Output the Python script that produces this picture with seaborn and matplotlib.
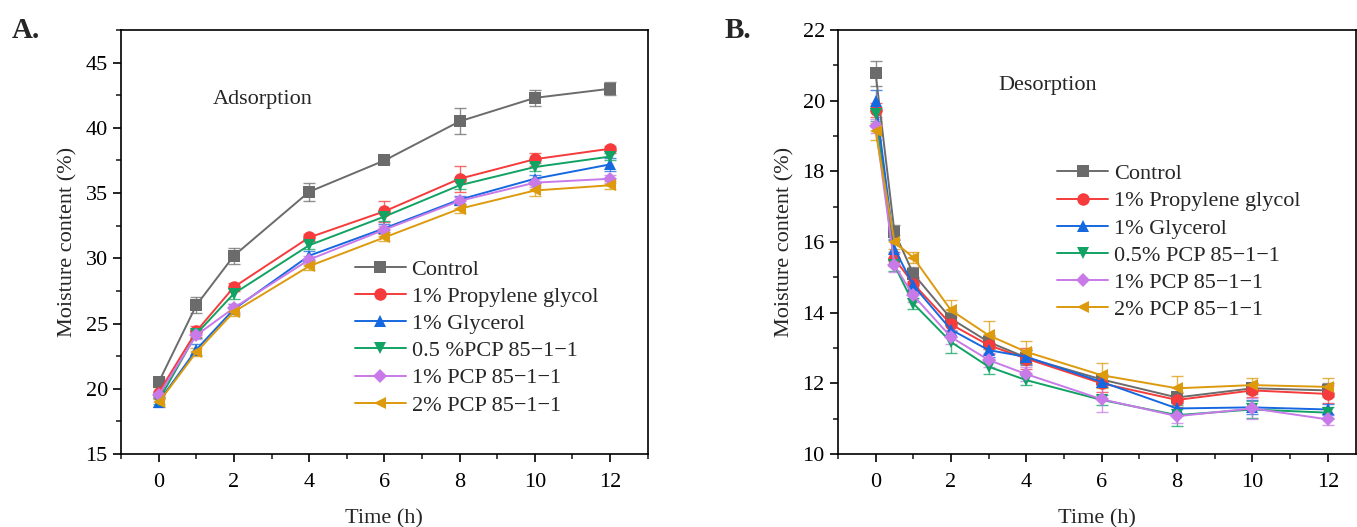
"""
Moisture adsorption / desorption curves, two panels.
"""
import matplotlib
matplotlib.use("Agg")
import matplotlib.pyplot as plt
from matplotlib.ticker import MultipleLocator
import pandas as pd
import seaborn as sns

sns.set_theme(style="ticks")
plt.rcParams["font.family"] = ["Liberation Serif", "DejaVu Serif"]
plt.rcParams["axes.linewidth"] = 1.2

# ---- data -----------------------------------------------------------------
labels_a = ["Control", "1% Propylene glycol", "1% Glycerol",
            "0.5 %PCP 85\u22121\u22121", "1% PCP 85\u22121\u22121", "2% PCP 85\u22121\u22121"]
labels_b = ["Control", "1% Propylene glycol", "1% Glycerol",
            "0.5% PCP 85\u22121\u22121", "1% PCP 85\u22121\u22121", "2% PCP 85\u22121\u22121"]

time_a = [0, 1, 2, 4, 6, 8, 10, 12]
control_a = [20.5, 26.4, 30.2, 35.1, 37.5, 40.5, 42.3, 43.0]
pg_a = [19.7, 24.4, 27.8, 31.6, 33.6, 36.1, 37.6, 38.4]
gly_a = [19.0, 23.0, 26.1, 30.2, 32.3, 34.5, 36.1, 37.2]
pcp05_a = [19.1, 24.2, 27.3, 31.0, 33.2, 35.6, 37.0, 37.8]
pcp1_a = [19.5, 24.1, 26.2, 29.9, 32.2, 34.4, 35.8, 36.1]
pcp2_a = [18.95, 22.8, 25.9, 29.4, 31.6, 33.8, 35.2, 35.6]

control_a_err = [0.3, 0.6, 0.6, 0.7, 0.2, 1.0, 0.6, 0.5]
pg_a_err = [0.4, 0.4, 0.3, 0.3, 0.8, 1.0, 0.5, 0.2]
gly_a_err = [0.4, 0.4, 0.4, 0.4, 0.3, 0.3, 0.3, 0.5]
pcp05_a_err = [0.3, 0.3, 0.4, 0.3, 0.3, 0.3, 0.3, 0.3]
pcp1_a_err = [0.3, 0.3, 0.3, 0.3, 0.3, 0.3, 0.3, 0.3]
pcp2_a_err = [0.3, 0.3, 0.3, 0.3, 0.3, 0.3, 0.4, 0.3]

time_b = [0, 0.5, 1, 2, 3, 4, 6, 8, 10, 12]
control_b = [20.77, 16.28, 15.10, 13.83, 13.17, 12.73, 12.11, 11.60, 11.86, 11.80]
pg_b = [19.74, 15.53, 14.82, 13.67, 13.08, 12.70, 12.00, 11.53, 11.80, 11.70]
gly_b = [20.00, 15.81, 14.77, 13.52, 12.94, 12.75, 12.04, 11.29, 11.32, 11.26]
pcp05_b = [19.62, 15.34, 14.26, 13.17, 12.47, 12.09, 11.53, 11.10, 11.26, 11.17]
pcp1_b = [19.29, 15.34, 14.49, 13.31, 12.66, 12.26, 11.55, 11.07, 11.29, 10.98]
pcp2_b = [19.13, 16.00, 15.56, 14.07, 13.36, 12.89, 12.23, 11.86, 11.95, 11.90]

control_b_err = [0.35, 0.2, 0.2, 0.2, 0.2, 0.2, 0.15, 0.15, 0.15, 0.2]
pg_b_err = [0.2, 0.2, 0.2, 0.2, 0.25, 0.3, 0.25, 0.2, 0.2, 0.25]
gly_b_err = [0.3, 0.25, 0.2, 0.2, 0.2, 0.2, 0.15, 0.15, 0.2, 0.15]
pcp05_b_err = [0.2, 0.15, 0.15, 0.3, 0.2, 0.15, 0.15, 0.3, 0.25, 0.15]
pcp1_b_err = [0.2, 0.2, 0.2, 0.2, 0.2, 0.2, 0.35, 0.2, 0.3, 0.15]
pcp2_b_err = [0.25, 0.2, 0.15, 0.3, 0.4, 0.3, 0.35, 0.35, 0.2, 0.25]

colors = ["#6b6b6b", "#f53b3b", "#1668e0", "#11a264", "#c77ae8", "#dc9a0c"]
markers = ["s", "o", "^", "v", "D", "<"]
msizes = [8.5, 9, 9, 9, 7.5, 9]

FS = 16


def long_frame(times, series, errs, labels):
    rows = []
    for lbl, vals, ee in zip(labels, series, errs):
        for t, v, e in zip(times, vals, ee):
            rows.append({"time": t, "value": v, "err": e, "group": lbl})
    return pd.DataFrame(rows)


def draw_panel(ax, df, labels, legend_xy):
    for i, lbl in enumerate(labels):
        sub = df[df.group == lbl]
        ax.errorbar(sub["time"], sub["value"], yerr=sub["err"], fmt="none",
                    ecolor=colors[i], elinewidth=1.0, capsize=4, capthick=1.0,
                    alpha=0.75, zorder=2)
        sns.lineplot(data=sub, x="time", y="value", ax=ax, color=colors[i],
                     marker=markers[i], markersize=msizes[i], markeredgewidth=0,
                     linewidth=1.4, label=lbl, errorbar=None, zorder=3)
    ax.legend(loc="upper left", bbox_to_anchor=legend_xy, frameon=False,
              fontsize=FS, handlelength=2.3, handletextpad=0.25,
              labelspacing=0.3, borderpad=0, borderaxespad=0)
    ax.set_xlabel("Time (h)", fontsize=FS, labelpad=12)
    ax.set_ylabel("Moisture content (%)", fontsize=FS, labelpad=6)
    ax.xaxis.set_major_locator(MultipleLocator(2))
    ax.xaxis.set_minor_locator(MultipleLocator(1))
    ax.tick_params(which="major", direction="out", length=6, width=1.2,
                   labelsize=FS, colors="black")
    ax.tick_params(axis="x", which="major", pad=8)
    ax.tick_params(which="minor", direction="out", length=3.5, width=1.2)
    for s in ax.spines.values():
        s.set_visible(True)
        s.set_color("black")
        s.set_linewidth(1.2)


df_a = long_frame(time_a, [control_a, pg_a, gly_a, pcp05_a, pcp1_a, pcp2_a],
                  [control_a_err, pg_a_err, gly_a_err, pcp05_a_err, pcp1_a_err, pcp2_a_err],
                  labels_a)
df_b = long_frame(time_b, [control_b, pg_b, gly_b, pcp05_b, pcp1_b, pcp2_b],
                  [control_b_err, pg_b_err, gly_b_err, pcp05_b_err, pcp1_b_err, pcp2_b_err],
                  labels_b)

fig = plt.figure(figsize=(13.57, 5.27), dpi=100)
ax_a = fig.add_axes([0.0892, 0.1385, 0.3881, 0.8045])
ax_b = fig.add_axes([0.6175, 0.1385, 0.3818, 0.8045])

draw_panel(ax_a, df_a, labels_a, (0.444, 0.46))
ax_a.set_xlim(-1, 13)
ax_a.set_ylim(15, 47.5)
ax_a.yaxis.set_major_locator(MultipleLocator(5))
ax_a.yaxis.set_minor_locator(MultipleLocator(2.5))
ax_a.text(0.175, 0.835, "Adsorption", transform=ax_a.transAxes, fontsize=FS,
          ha="left", va="center")

draw_panel(ax_b, df_b, labels_b, (0.423, 0.685))
ax_b.set_xlim(-1, 12.75)
ax_b.set_ylim(10, 22)
ax_b.yaxis.set_major_locator(MultipleLocator(2))
ax_b.yaxis.set_minor_locator(MultipleLocator(1))
ax_b.text(0.309, 0.87, "Desorption", transform=ax_b.transAxes, fontsize=FS,
          ha="left", va="center")

fig.text(0.009, 0.943, "A.", fontsize=21, fontweight="bold", ha="left", va="center")
fig.text(0.534, 0.943, "B.", fontsize=21, fontweight="bold", ha="left", va="center")

fig.savefig("out.png", dpi=100)
plt.close(fig)
